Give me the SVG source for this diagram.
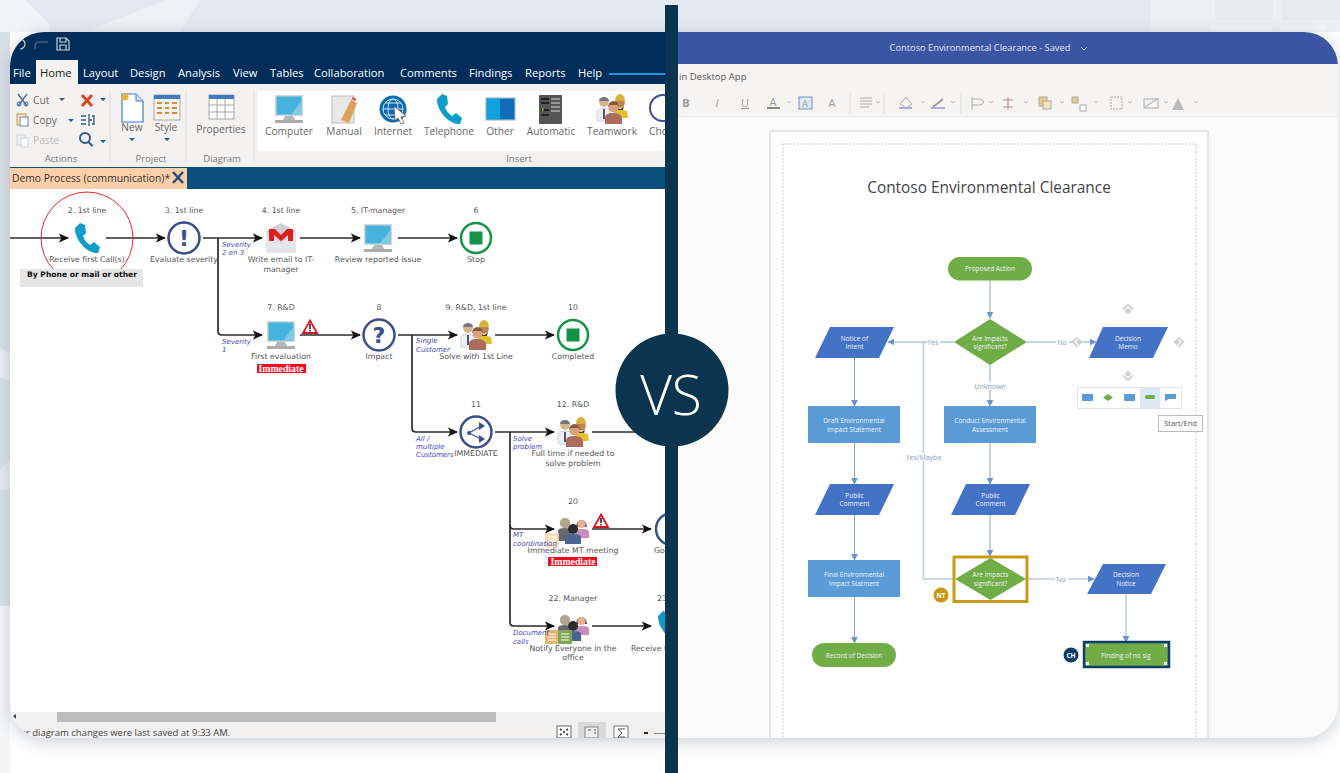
<svg xmlns="http://www.w3.org/2000/svg" width="1340" height="773" viewBox="0 0 1340 773">
<style>
text{font-family:"Open Sans","Liberation Sans",sans-serif}
.m{font-size:11.200px;fill:#fff}
.r{font-size:10.200px;fill:#666}
.rc{font-size:10.200px;fill:#666;text-anchor:middle}
.g{font-size:9.500px;fill:#777;text-anchor:middle}
.d{font-family:"DejaVu Sans",sans-serif;font-size:7.800px;fill:#555;text-anchor:middle}
.b{font-family:"DejaVu Sans",sans-serif;font-size:7px;font-style:italic;fill:#4a48c0}
.im{font-family:"Liberation Serif",serif;font-size:9.800px;font-weight:bold;fill:#fff;text-anchor:middle}
.w{font-size:6.500px;fill:#eef4fb;text-anchor:middle}
.c{font-size:7px;fill:#7e9cc4;text-anchor:middle}
.tb{font-size:11px;fill:#999;text-anchor:middle}
.ln{fill:none;stroke:#2b2b2b;stroke-width:1.700}
.fl{fill:none;stroke:#7fa8d8;stroke-width:1}
.fl2{fill:none;stroke:#b7cbe4;stroke-width:1.500}
.p{fill:#4472c4}.q{fill:#5b9bd5}.gr{fill:#70ad47}
.h{fill:#cfcfcf}
</style>
<defs>
<filter id="sh" x="-5%" y="-5%" width="110%" height="112%"><feGaussianBlur stdDeviation="8"/></filter>
<clipPath id="card"><rect x="10" y="32" width="1328" height="706" rx="34"/></clipPath>
<clipPath id="leftc"><rect x="0" y="0" width="665" height="773"/></clipPath>
<marker id="ah" viewBox="0 0 10 10" refX="9" refY="5" markerWidth="6" markerHeight="6" orient="auto" markerUnits="strokeWidth"><path d="M0,0.500 L10,5 L0,9.500 L2.500,5Z" fill="#111"/></marker>
<marker id="bh" viewBox="0 0 10 10" refX="9" refY="5" markerWidth="7" markerHeight="7" orient="auto" markerUnits="userSpaceOnUse"><path d="M0,0 L10,5 L0,10Z" fill="#6b93cf"/></marker>
<symbol id="computer" overflow="visible"><rect x="-14" y="-14" width="28" height="21" fill="#d3d6d9"/><rect x="-12.500" y="-12.500" width="25" height="18" fill="#45b3dc"/><path d="M2,5.500L12.500,-8V5.500Z" fill="#7fcbe6"/><path d="M-4,7H4L6,11H-6Z" fill="#b5b8ba"/><rect x="-14" y="11" width="28" height="3" fill="#a9abad"/></symbol>
<symbol id="phone" overflow="visible"><path d="M-7,-15L-2,-13L-1,-5L-4,-2C-3,2 0,5 3,7L7,4L13,9L11,15C2,16-12,4-12,-10Z" fill="#0e9cc9"/></symbol>
<symbol id="mail" overflow="visible"><rect x="-15" y="-7" width="30" height="22" fill="#e5e5ea"/><path d="M-15,-7L0,-15L15,-7L0,5Z" fill="#cfcfd6"/><path d="M-12,-9H-6L0,-3L6,-9H12V3H7V-3L0,3L-7,-3V3H-12Z" fill="#d9211d"/></symbol>
<symbol id="warn" overflow="visible"><path d="M0,-6.500L7,6H-7Z" fill="#fff" stroke="#d9131c" stroke-width="1.800"/><rect x="-0.800" y="-3" width="1.600" height="5" fill="#222"/><rect x="-0.800" y="3" width="1.600" height="1.500" fill="#222"/></symbol>
<symbol id="stop" overflow="visible"><circle r="15" fill="#fff" stroke="#159447" stroke-width="2.500"/><rect x="-6.500" y="-6.500" width="13" height="13" fill="#159447"/></symbol>
<symbol id="team" overflow="visible">
<path d="M2,2q6,-3 13,0l1,7H2z" fill="#e3c02f"/><circle cx="8" cy="-6" r="4.800" fill="#b98652"/><path d="M3,-8a5,7 0 0 1 10,0z" fill="#d8b13a"/><path d="M4,-3q4,6 8,0l-1,4h-6z" fill="#5a3a24"/>
<path d="M-15,12V3q0,-4 7,-4t6,4V12Z" fill="#eef1f3" stroke="#b8b8b8" stroke-width=".6"/><rect x="-9" y="0" width="2" height="10" fill="#556"/><circle cx="-8" cy="-7" r="4.800" fill="#d9b08c"/><path d="M-13,-8a5,4 0 0 1 10,0z" fill="#777"/>
<path d="M-7,15V9q0,-5 8,-5t9,5V15Z" fill="#ad6a5e"/><circle cx="1.500" cy="-1.500" r="5" fill="#d9a27d"/><path d="M-4,-2a5.500,6 0 0 1 11,0l-2,-2h-7z" fill="#8a5a3c"/></symbol>
<symbol id="mt" overflow="visible">
<path d="M2,9V2q0,-2 7,-2t7,3V9Z" fill="#c98cb8"/><path d="M3,-2a5.500,7 0 1 1 11,0z" fill="#7a4a32"/><circle cx="8.500" cy="-5" r="4" fill="#e0b493"/>
<path d="M-15,12V2q0,-3 7,-3t6,3V12Z" fill="#66686c"/><circle cx="-8" cy="-6" r="5.200" fill="#b5a48c"/>
<path d="M-8,15V8q0,-3 8,-3t8,3V15Z" fill="#4c6590"/><circle cx="0" cy="0" r="5" fill="#2d2d30"/></symbol>
<symbol id="hnd" overflow="visible"><path d="M0,-5.500l5.500,5.500-5.500,5.500-5.500,-5.500z" fill="#cfcfcf"/><path d="M-3.500,1.500L0,-2l3.500,3.500" fill="none" stroke="#fff" stroke-width="1.200"/></symbol>
</defs>

<rect width="1340" height="773" fill="#fff"/>
<rect width="1340" height="32" fill="#e3e9f0"/>
<path d="M0,0H25L50,25V32H0Z" fill="#f1f4f7"/>
<path d="M165,0H200L180,32H85Z" fill="#edf0f4"/>
<path d="M1150,0H1340V32H1150Z" fill="#eceff4"/><rect x="1215" y="0" width="58" height="20" fill="#e6ebf1"/><rect x="1282" y="0" width="58" height="20" fill="#e6ebf1"/><rect x="1210" y="25" width="62" height="7" fill="#f3f5f8"/><rect x="1280" y="25" width="45" height="7" fill="#f3f5f8"/>
<rect x="0" y="32" width="10" height="574" fill="#d9dfe7"/>
<path d="M0,348L10,354V380L0,378Z" fill="#e9ecf0"/><path d="M0,470L10,460V490L0,490Z" fill="#e6e9ee"/>
<rect x="0" y="606" width="10" height="167" fill="#f4f5f7"/>
<rect x="10" y="34" width="1328" height="708" rx="34" fill="#7d8896" opacity=".38" filter="url(#sh)"/>

<g id="app-left" clip-path="url(#card)">
<g clip-path="url(#leftc)">
<rect x="0" y="32" width="680" height="708" fill="#fff"/>
<rect x="0" y="32" width="680" height="52" fill="#002d5a"/>
<g fill="none" stroke="#c9d3dc" stroke-width="1.200"><path d="M20,39a5,5 0 0 1 0,10"/><path d="M35,49v-3a4,4 0 0 1 4,-4h9" stroke="#5b7590"/><path d="M57,38h9l3,3v9H57Z"/><path d="M60,38v4h6v-4M60,50v-5h6v5"/></g>
<rect x="36" y="60" width="42" height="24" fill="#f3f2f1"/>
<text class="m" x="13" y="77">File</text><text class="m" x="40" y="77" style="fill:#222">Home</text><text class="m" x="83" y="77">Layout</text><text class="m" x="130" y="77">Design</text><text class="m" x="178" y="77">Analysis</text><text class="m" x="233" y="77">View</text><text class="m" x="270" y="77">Tables</text><text class="m" x="314" y="77">Collaboration</text><text class="m" x="400" y="77">Comments</text><text class="m" x="469" y="77">Findings</text><text class="m" x="525" y="77">Reports</text><text class="m" x="578" y="77">Help</text>
<rect x="609" y="73" width="56" height="2" fill="#1a9ad6"/>
<rect x="0" y="84" width="680" height="83" fill="#f3f2f1"/>
<rect x="258" y="91" width="410" height="60" fill="#fff"/>
<path d="M110,90V162M186,90V162M254,90V162" stroke="#ddd" fill="none"/>
<text class="r" x="33" y="104">Cut</text><text class="r" x="33" y="124">Copy</text><text class="r" x="33" y="144" style="fill:#bbb">Paste</text>
<text class="g" x="61" y="162">Actions</text><text class="g" x="151" y="162">Project</text><text class="g" x="222" y="162">Diagram</text><text class="g" x="519" y="162">Insert</text>
<path d="M18,94l9,12M27,94l-9,12" stroke="#3f6da0" stroke-width="1.300" fill="none"/><circle cx="19" cy="104" r="2" fill="none" stroke="#3f6da0"/><circle cx="26" cy="104" r="2" fill="none" stroke="#3f6da0"/>
<rect x="17" y="114" width="9" height="11" fill="#f7e9d4" stroke="#c98a3c"/><rect x="20" y="117" width="8" height="9" fill="#fff" stroke="#3f6da0" stroke-width=".8"/>
<rect x="17" y="135" width="8" height="10" fill="#eee" stroke="#c9d3de"/><rect x="21" y="138" width="7" height="9" fill="#fff" stroke="#c9d3de"/>
<path d="M59,98h6l-3,3zM100,98h6l-3,3zM68,119h6l-3,3zM100,140h6l-3,3zM129,138h6l-3,3zM164,138h6l-3,3z" fill="#2f5b8a"/>
<path d="M82,95l10,11M92,95l-10,11" stroke="#dc4a2a" stroke-width="3" fill="none"/>
<path d="M81,116h5M81,120h5M81,124h5M89,114v12M89,120h3M92,116h2v8h-2" stroke="#2f5b8a" stroke-width="1.300" fill="none"/>
<circle cx="85" cy="138" r="5" fill="none" stroke="#2f5b8a" stroke-width="2"/><path d="M88.500,142l4,4" stroke="#2f5b8a" stroke-width="2"/>
<path d="M122,94h14l7,7v21h-21Z" fill="#fff" stroke="#3f80c8" stroke-width="1.200"/><path d="M136,94v7h7" fill="#cfe0f2" stroke="#3f80c8"/><circle cx="125" cy="97" r="3.500" fill="#f0b13c"/>
<rect x="154" y="95" width="26" height="25" fill="#f3f3f3" stroke="#a9a9a9"/><rect x="154" y="95" width="26" height="4" fill="#3f7cbf"/><path d="M157,103h5M165,103h4M172,103h5M157,108h5M165,108h4M172,108h5M157,113h5M165,113h4M172,113h5" stroke-width="2" stroke="#d98a2b" fill="none"/>
<rect x="209" y="95" width="25" height="24" fill="#fff" stroke="#a5a5a5"/><rect x="209" y="95" width="25" height="4" fill="#3f7cbf"/><path d="M209,105h25M209,112h25M217,99v20M225,99v20" stroke="#aaa" fill="none"/>
<text class="rc" x="132" y="131">New</text><text class="rc" x="166" y="131">Style</text><text class="rc" x="221" y="133">Properties</text>
<text class="rc" x="289" y="135">Computer</text><text class="rc" x="344" y="135">Manual</text><text class="rc" x="393" y="135">Internet</text><text class="rc" x="449" y="135">Telephone</text><text class="rc" x="500" y="135">Other</text><text class="rc" x="551" y="135">Automatic</text><text class="rc" x="612" y="135">Teamwork</text><text class="r" x="649" y="135">Cho</text>
<use href="#computer" x="289" y="109"/>
<g><rect x="332" y="96" width="22" height="27" fill="#e8e8e8" stroke="#bbb"/><path d="M341,120l10,-20 6,3-8,20z" fill="#dda15e"/><path d="M352,98l4,2" stroke="#d9534f" stroke-width="2"/></g>
<circle cx="393" cy="109" r="13.500" fill="#0a6ab4"/><g fill="none" stroke="#cde4f5"><circle cx="393" cy="109" r="10"/><ellipse cx="393" cy="109" rx="5" ry="10"/><path d="M383,109h20M385,103h16M385,115h16"/></g><path d="M394,106l12,10-5,1 3,6-3,1-3,-6-3,3Z" fill="#fff" stroke="#555" stroke-width=".8"/>
<use href="#phone" x="449" y="109"/>
<rect x="486" y="98" width="29" height="22" fill="#10a2dc" stroke="#aaa"/><rect x="500" y="99" width="14" height="20" fill="#0f6cb8"/>
<rect x="539" y="95" width="23" height="29" rx="1" fill="#555"/><path d="M541,99h8M541,103h8M541,110h8M541,115h8" stroke="#222" stroke-width="2" fill="none"/><path d="M551,99h9M551,103h9M551,107h9M551,111h9" stroke="#aaa" stroke-width="1.500" fill="none"/><rect x="542" y="108" width="1.500" height="3" fill="#7c3"/>
<use href="#team" x="612" y="109"/>
<circle cx="663" cy="108" r="13" fill="#fff" stroke="#3a4f8c" stroke-width="2"/>

<rect x="0" y="167" width="680" height="22" fill="#0a4f7c"/>
<rect x="0" y="168" width="187" height="21" fill="#fdcfa8"/>
<text x="12" y="182" style="font-size:10.300px;fill:#333">Demo Process (communication)*</text>
<path d="M173,172l10,11M183,172l-10,11" stroke="#1f4e79" stroke-width="2.500"/>

<rect x="0" y="712" width="680" height="10" fill="#f1f1f1"/>
<rect x="57" y="712" width="439" height="10" fill="#bdbdbd"/>
<path d="M13,716l3,-2v5z" fill="#444"/>
<rect x="0" y="722" width="680" height="16" fill="#f1f0ef"/>
<text x="20" y="736" style="font-size:9.500px;fill:#444">ur diagram changes were last saved at 9:33 AM.</text>
<rect x="578" y="722" width="28" height="16" fill="#d8d8d8"/>
<rect x="557" y="726" width="14" height="12" fill="#fff" stroke="#666"/><path d="M560,729l8,6M568,729l-8,6" stroke="#444" stroke-width="2" stroke-dasharray="2 2"/>
<rect x="585" y="727" width="13" height="11" fill="#eee" stroke="#888"/><path d="M588,730h3M594,730h2M594,733h2" stroke="#555"/><rect x="614" y="726" width="14" height="12" fill="#fff" stroke="#777"/><path d="M625,729h-7l4,4-4,4h7" fill="none" stroke="#555"/>
<rect x="644" y="732" width="4" height="2" fill="#222"/><rect x="654" y="733" width="11" height="1" fill="#888"/>

<g id="connectors">
<path class="ln" marker-end="url(#ah)" d="M10,238H68"/>
<path class="ln" marker-end="url(#ah)" d="M106,238H165"/>
<path class="ln" marker-end="url(#ah)" d="M203,238H262"/>
<path class="ln" marker-end="url(#ah)" d="M300,238H360"/>
<path class="ln" marker-end="url(#ah)" d="M398,238H457"/>
<path class="ln" marker-end="url(#ah)" d="M218,238V331q0,4 4,4H262"/>
<path class="ln" marker-end="url(#ah)" d="M300,335H360"/>
<path class="ln" marker-end="url(#ah)" d="M398,335H457"/>
<path class="ln" marker-end="url(#ah)" d="M495,335H554"/>
<path class="ln" marker-end="url(#ah)" d="M412,335V428q0,4 4,4H457"/>
<path class="ln" marker-end="url(#ah)" d="M495,432H554"/>
<path class="ln" d="M592,432H665"/>
<path class="ln" marker-end="url(#ah)" d="M510,432V525q0,4 4,4H554"/>
<path class="ln" marker-end="url(#ah)" d="M510,525V622q0,4 4,4H554"/>
<path class="ln" marker-end="url(#ah)" d="M592,529H651"/>
<path class="ln" marker-end="url(#ah)" d="M592,626H651"/>
</g>
<g id="node-2"><circle cx="87" cy="238" r="46" fill="none" stroke="#f0252b" stroke-width="1"/><rect x="20" y="269" width="123" height="18" fill="#e6e6e6"/><text class="d" x="87" y="213">2. 1st line</text><use href="#phone" x="87" y="238"/><text class="d" x="87" y="262">Receive first Call(s)</text><text class="d" x="82" y="277" style="font-weight:bold;fill:#111;font-size:7.600px">By Phone or mail or other</text></g>
<g id="node-3"><text class="d" x="184" y="213">3. 1st line</text><circle cx="184" cy="238" r="15.500" fill="#fff" stroke="#3a4f8c" stroke-width="2.500"/><text x="184" y="246" text-anchor="middle" style="font-family:'DejaVu Sans',sans-serif;font-weight:bold;font-size:22px;fill:#3a4f8c">!</text><text class="d" x="184" y="262">Evaluate severity</text></g>
<g id="node-4"><text class="d" x="281" y="213">4. 1st line</text><use href="#mail" x="281" y="238"/><text class="d" x="281" y="262">Write email to IT-</text><text class="d" x="281" y="272">manager</text></g>
<g id="node-5"><text class="d" x="378" y="213">5. IT-manager</text><use href="#computer" x="378" y="238"/><text class="d" x="378" y="262">Review reported issue</text></g>
<g id="node-6"><text class="d" x="476" y="213">6</text><use href="#stop" x="476" y="238"/><text class="d" x="476" y="262">Stop</text></g>
<g id="node-7"><text class="d" x="281" y="310">7. R&amp;D</text><use href="#computer" x="281" y="335"/><use href="#warn" x="310" y="327"/><text class="d" x="281" y="359">First evaluation</text><rect x="257" y="364" width="49" height="9" fill="#f5081c"/><text class="im" x="281" y="371.500">Immediate</text></g>
<g id="node-8"><text class="d" x="379" y="310">8</text><circle cx="379" cy="335" r="15.500" fill="#fff" stroke="#3a4f8c" stroke-width="2.500"/><text x="379" y="343" text-anchor="middle" style="font-family:'DejaVu Sans',sans-serif;font-weight:bold;font-size:22px;fill:#3a4f8c">?</text><text class="d" x="379" y="359">Impact</text></g>
<g id="node-9"><text class="d" x="476" y="310">9. R&amp;D, 1st line</text><use href="#team" x="476" y="335"/><text class="d" x="476" y="359">Solve with 1st Line</text></g>
<g id="node-10"><text class="d" x="573" y="310">10</text><use href="#stop" x="573" y="335"/><text class="d" x="573" y="359">Completed</text></g>
<g id="node-11"><text class="d" x="476" y="407">11</text><circle cx="476" cy="432" r="15.500" fill="#fff" stroke="#3a4f8c" stroke-width="2.500"/><path d="M469,433L481,426M469,433L481,439" stroke="#3a4f8c" stroke-width="1.200"/><circle cx="469" cy="433" r="2" fill="#3a4f8c"/><path d="M479,422l6,4-6,4zM479,435l6,4-6,4z" fill="#3a4f8c"/><text class="d" x="476" y="456">IMMEDIATE</text></g>
<g id="node-12"><text class="d" x="573" y="407">12. R&amp;D</text><use href="#team" x="573" y="432"/><text class="d" x="573" y="456">Full time if needed to</text><text class="d" x="573" y="466">solve problem</text></g>
<g id="node-20"><text class="d" x="573" y="504">20</text><use href="#mt" x="573" y="529"/><rect x="545" y="533" width="14" height="14" fill="#f3d3a6" opacity=".8"/><path d="M548,537h8M548,540h8M548,543h8" stroke="#fff"/><use href="#warn" x="601" y="521"/><text class="d" x="573" y="553">Immediate MT meeting</text><rect x="548" y="557" width="49" height="9" fill="#f5081c"/><text class="im" x="573" y="564.500">Immediate</text></g>
<g id="node-21"><circle cx="672" cy="529" r="16" fill="#fff" stroke="#3a4f8c" stroke-width="2.500"/><text class="d" x="654" y="553" style="text-anchor:start">Go</text></g>
<g id="node-22"><text class="d" x="573" y="601">22. Manager</text><use href="#mt" x="573" y="626"/><rect x="545" y="630" width="13" height="14" fill="#e8b570"/><rect x="558" y="630" width="14" height="14" fill="#7fa858"/><path d="M548,634h8M548,637h8M548,640h8M561,634h8M561,637h8M561,640h8" stroke="#fff"/><text class="d" x="573" y="651">Notify Everyone in the</text><text class="d" x="573" y="660">office</text></g>
<g id="node-23"><text class="d" x="657" y="601" style="text-anchor:start">23</text><use href="#phone" x="670" y="626"/><text class="d" x="631" y="651" style="text-anchor:start">Receive f</text></g>
<g id="labels">
<text class="b" x="222" y="247">Severity</text><text class="b" x="222" y="255">2 en 3</text>
<text class="b" x="222" y="344">Severity</text><text class="b" x="222" y="352">1</text>
<text class="b" x="416" y="343">Single</text><text class="b" x="416" y="352">Customer</text>
<text class="b" x="416" y="441">All /</text><text class="b" x="416" y="449">multiple</text><text class="b" x="416" y="457">Customers</text>
<text class="b" x="513" y="441">Solve</text><text class="b" x="513" y="449">problem</text>
<text class="b" x="513" y="537">MT</text><text class="b" x="513" y="546">coordination</text>
<text class="b" x="513" y="635">Document</text><text class="b" x="513" y="644">calls</text>
</g>
</g>

<g id="app-right">
<rect x="678" y="32" width="662" height="708" fill="#fbfbfb"/>
<rect x="678" y="32" width="662" height="32" fill="#3a55a2"/>
<rect x="678" y="64" width="662" height="53" fill="#f5f4f2"/>
<rect x="678" y="116" width="662" height="1" fill="#e8e8e6"/>
<text x="980" y="51" text-anchor="middle" style="font-size:9.300px;fill:#e3e8f3">Contoso Environmental Clearance - Saved</text>
<path d="M1081,47l3,3 3,-3" fill="none" stroke="#b8c5e2"/>
<text x="679" y="80" style="font-size:9.500px;fill:#555">in Desktop App</text>
<text class="tb" x="686" y="107" style="font-weight:bold">B</text><text class="tb" x="717" y="107" style="font-style:italic">I</text><text class="tb" x="745" y="107" style="text-decoration:underline">U</text><text class="tb" x="773" y="106">A</text><rect x="767" y="107" width="13" height="2" fill="#888"/>
<rect x="799" y="97" width="13" height="12" fill="#dfe9f4" stroke="#6d92bb"/><text class="tb" x="805" y="107" style="font-size:9px">A</text><text class="tb" x="832" y="107">A</text>
<path d="M850,93V114M884,93V114" stroke="#ddd" fill="none"/><path d="M961,93V114" stroke="#ddd" fill="none"/>
<path d="M860,98h12M860,101h12M860,104h12M860,107h9" stroke="#aaa"/>
<path d="M900,104l6,-7 6,7-6,4z" fill="none" stroke="#aaa"/><rect x="899" y="107" width="13" height="2" fill="#9fb2d8"/><path d="M933,107l10,-8" stroke="#999" stroke-width="2"/><rect x="931" y="107" width="14" height="2" fill="#9fb2d8"/>
<path d="M972,97V110M972,99h9l3,3-3,3h-9" fill="none" stroke="#aaa"/>
<path d="M1008,97v13M1003,100h10M1003,107h10" stroke="#b89" fill="none"/>
<rect x="1039" y="97" width="8" height="9" fill="#e8c98a" stroke="#aaa"/><rect x="1043" y="101" width="8" height="8" fill="#f2e3b8" stroke="#aaa"/>
<rect x="1072" y="97" width="6" height="6" fill="#e8c98a" stroke="#aaa"/><rect x="1080" y="105" width="6" height="6" fill="#fff" stroke="#aaa"/>
<rect x="1111" y="97" width="11" height="12" fill="none" stroke="#aaa" stroke-dasharray="2 1"/>
<rect x="1144" y="99" width="14" height="9" fill="none" stroke="#aaa"/><path d="M1145,107l12,-8" stroke="#9ab"/>
<path d="M1178,98l6,12h-12z" fill="#bbb"/>
<path d="M787,101l2,2 2,-2M876,101l2,2 2,-2M921,101l2,2 2,-2M951,101l2,2 2,-2M989,101l2,2 2,-2M1024,101l2,2 2,-2M1060,101l2,2 2,-2M1094,101l2,2 2,-2M1128,101l2,2 2,-2M1164,101l2,2 2,-2M1194,101l2,2 2,-2" fill="none" stroke="#bbb"/>
<rect x="770" y="131" width="438" height="615" fill="#fff" stroke="#ddd" stroke-width="1.500"/>
<rect x="783" y="144" width="413" height="610" fill="none" stroke="#bbb" stroke-width=".8" stroke-dasharray="2 1.500"/>
<text x="989" y="193" text-anchor="middle" style="font-size:15.400px;fill:#444">Contoso Environmental Clearance</text>

<g id="flow-connectors">
<path class="fl" marker-end="url(#bh)" d="M990,280V318"/>
<path class="fl" marker-end="url(#bh)" d="M954,342H888"/>
<path class="fl" marker-end="url(#bh)" d="M1027,342H1096"/>
<path class="fl" marker-end="url(#bh)" d="M990,365V406"/>
<path class="fl" marker-end="url(#bh)" d="M854.500,358V406"/>
<path class="fl" marker-end="url(#bh)" d="M854.500,443V484"/>
<path class="fl" marker-end="url(#bh)" d="M990,443V484"/>
<path class="fl" marker-end="url(#bh)" d="M854.500,515V560"/>
<path class="fl" marker-end="url(#bh)" d="M990,515V556"/>
<path class="fl" marker-end="url(#bh)" d="M854.500,597V643"/>
<path class="fl2" d="M923.500,342V579H954"/>
<path class="fl2" marker-end="url(#bh)" d="M1027,579H1094"/>
<path class="fl2" marker-end="url(#bh)" d="M1126,594V642"/>
<rect x="927" y="338" width="13" height="8" fill="#fff"/><text class="c" x="933" y="345">Yes</text>
<rect x="1056" y="338" width="13" height="8" fill="#fff"/><text class="c" x="1062" y="345">No</text>
<rect x="976" y="382" width="29" height="8" fill="#fff"/><text class="c" x="990" y="389">Unknown</text>
<rect x="905" y="453" width="37" height="8" fill="#fff"/><text class="c" x="923.500" y="460">Yes/Maybe</text>
<rect x="1055" y="575" width="13" height="8" fill="#fff"/><text class="c" x="1061" y="582">No</text>
</g>
<g id="proposed-action"><rect class="gr" x="948" y="257" width="84" height="23.500" rx="11.700"/><text class="w" x="990" y="271">Proposed Action</text></g>
<g id="impacts-1"><path class="gr" d="M990,319L1027,342L990,365L954,342Z"/><text class="w" x="990" y="340.500">Are impacts</text><text class="w" x="990" y="349">significant?</text></g>
<g id="notice-intent"><path class="p" d="M830,327H894L879,358H815Z"/><text class="w" x="854.500" y="340.500">Notice of</text><text class="w" x="854.500" y="349">Intent</text></g>
<g id="decision-memo"><path class="p" d="M1103,327H1168L1153,358H1089Z"/><text class="w" x="1128" y="340.500">Decision</text><text class="w" x="1128" y="349">Memo</text></g>
<g id="draft"><rect class="q" x="808" y="406" width="92" height="37"/><text class="w" x="854" y="423">Draft Environmental</text><text class="w" x="854" y="432">Impact Statement</text></g>
<g id="conduct"><rect class="q" x="944" y="406" width="92" height="37"/><text class="w" x="990" y="423">Conduct Environmental</text><text class="w" x="990" y="432">Assessment</text></g>
<g id="public-1"><path class="p" d="M830,484H894L879,515H815Z"/><text class="w" x="854.500" y="497.500">Public</text><text class="w" x="854.500" y="506">Comment</text></g>
<g id="public-2"><path class="p" d="M966,484H1030L1015,515H951Z"/><text class="w" x="990.500" y="497.500">Public</text><text class="w" x="990.500" y="506">Comment</text></g>
<g id="final"><rect class="q" x="808" y="560" width="92" height="37"/><text class="w" x="854" y="577">Final Environmental</text><text class="w" x="854" y="586">Impact Statment</text></g>
<g id="impacts-2"><path class="gr" d="M990.500,558L1026,579L990.500,600L955,579Z"/><rect x="954" y="557" width="73" height="44.500" fill="none" stroke="#c89b14" stroke-width="3"/><text class="w" x="990.500" y="577">Are impacts</text><text class="w" x="990.500" y="586">significant?</text><circle cx="941" cy="595" r="7.500" fill="#c8960f"/><text x="941" y="597.500" text-anchor="middle" style="font-size:6.500px;font-weight:bold;fill:#fff">NT</text></g>
<g id="decision-notice"><path class="p" d="M1103,564H1166L1151,594H1087Z"/><text class="w" x="1126" y="577">Decision</text><text class="w" x="1126" y="586">Notice</text></g>
<g id="record"><rect class="gr" x="812" y="643" width="84" height="24" rx="12"/><text class="w" x="854" y="657.500">Record of Decision</text></g>
<g id="finding"><rect class="gr" x="1085" y="643" width="83" height="24"/><rect x="1084" y="642" width="85" height="25" fill="none" stroke="#0f3f6e" stroke-width="2.500"/><rect x="1086" y="644" width="3" height="3" fill="#fff"/><rect x="1164" y="644" width="3" height="3" fill="#fff"/><rect x="1086" y="662" width="3" height="3" fill="#fff"/><rect x="1164" y="662" width="3" height="3" fill="#fff"/><text class="w" x="1126" y="657.500">Finding of no sig</text><circle cx="1071" cy="655" r="7.500" fill="#0b3d6b"/><text x="1071" y="657.500" text-anchor="middle" style="font-size:6.500px;font-weight:bold;fill:#fff">CH</text></g>
<g id="handles">
<use href="#hnd" x="1128" y="309"/><use href="#hnd" transform="rotate(180 1128 376)" x="1128" y="376"/><use href="#hnd" transform="rotate(90 1179 342)" x="1179" y="342"/><use href="#hnd" transform="rotate(-90 1077 342)" x="1077" y="342"/>
</g>
<g id="palette"><rect x="1077.500" y="387.500" width="104" height="21" fill="#fff" stroke="#e3e3e3"/><rect x="1140" y="388" width="20" height="20" fill="#dce8f3"/><rect x="1082" y="394" width="11" height="7" fill="#5b9bd5"/><path d="M1108,394l5,3.500-5,3.500-5,-3.500z" fill="#70ad47"/><rect x="1124" y="394" width="11" height="7" rx="1" fill="#5b9bd5"/><rect x="1145" y="395" width="10" height="4" rx="2" fill="#70ad47"/><path d="M1165,394h11v5h-7l-4,2z" fill="#5b9bd5"/></g>
<g id="tooltip"><rect x="1158.500" y="415.500" width="44" height="16" fill="#fff" stroke="#bbb"/><text x="1180.500" y="426" text-anchor="middle" style="font-size:7.500px;fill:#555">Start/End</text></g>
</g>
</g>

<g id="divider">
<rect x="665" y="5" width="13" height="768" fill="#0b344f"/>
<circle cx="672" cy="390" r="56.500" fill="#0b344f"/>
<text x="671" y="415" text-anchor="middle" style="font-family:'Open Sans',sans-serif;font-weight:300;font-size:55px;fill:#fff">VS</text>
</g>
</svg>
